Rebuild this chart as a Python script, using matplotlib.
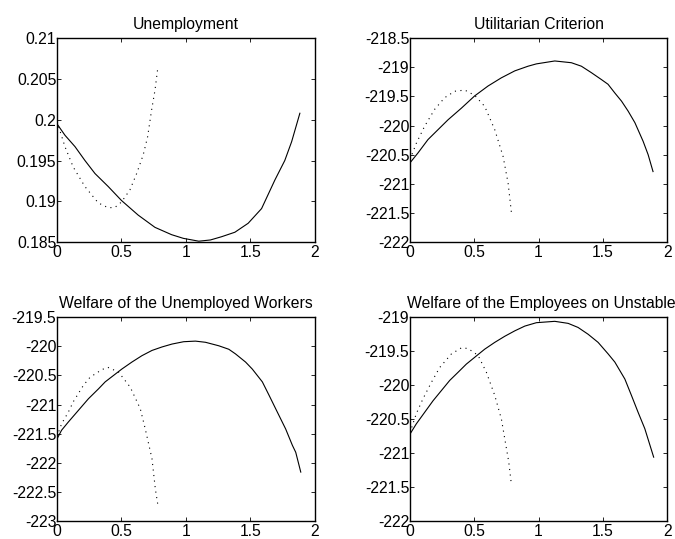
import matplotlib
matplotlib.use("Agg")
import matplotlib.pyplot as plt
from matplotlib.ticker import FormatStrFormatter

plt.rcParams["font.family"] = ["Liberation Sans", "DejaVu Sans"]
plt.rcParams["axes.unicode_minus"] = False

# --- Unemployment ---
unemp_solid_x = [0.0, 0.062, 0.14, 0.217, 0.295, 0.398, 0.5, 0.63, 0.76, 0.889, 0.98, 1.1, 1.19,
                 1.277, 1.38, 1.483, 1.587, 1.69, 1.767, 1.82, 1.884]
unemp_solid_y = [0.1995, 0.1981, 0.1967, 0.1950, 0.1934, 0.1918, 0.1901, 0.1883, 0.1868, 0.1859,
                 0.18545, 0.1851, 0.18525, 0.18565, 0.1862, 0.1873, 0.1891, 0.1926, 0.1950, 0.1973,
                 0.2008]
unemp_dot_x = [0.0, 0.062, 0.126, 0.217, 0.32, 0.398, 0.45, 0.5, 0.566, 0.618, 0.669, 0.703, 0.734,
               0.76, 0.78]
unemp_dot_y = [0.1998, 0.1967, 0.1942, 0.1918, 0.1898, 0.1892, 0.18925, 0.1899, 0.1914, 0.1934,
               0.1957, 0.1979, 0.2012, 0.2036, 0.2061]

# --- Utilitarian Criterion ---
util_solid_x = [0.0, 0.062, 0.14, 0.218, 0.296, 0.4, 0.503, 0.607, 0.71, 0.815, 0.918, 0.983, 1.126,
                1.255, 1.333, 1.41, 1.489, 1.54, 1.593, 1.645, 1.696, 1.749, 1.813, 1.852, 1.89]
util_solid_y = [-220.64, -220.47, -220.24, -220.07, -219.90, -219.70, -219.49, -219.32, -219.18,
                -219.06, -218.98, -218.94, -218.89, -218.92, -218.98, -219.09, -219.21, -219.29,
                -219.44, -219.58, -219.75, -219.95, -220.27, -220.50, -220.79]
util_dot_x = [0.0, 0.05, 0.114, 0.192, 0.27, 0.348, 0.426, 0.503, 0.581, 0.659, 0.724, 0.763, 0.789]
util_dot_y = [-220.58, -220.30, -220.01, -219.72, -219.52, -219.41, -219.39, -219.48, -219.67,
              -220.07, -220.53, -220.99, -221.50]

# --- Welfare of the Unemployed Workers ---
unw_solid_x = [0.0, 0.036, 0.088, 0.166, 0.244, 0.322, 0.374, 0.503, 0.581, 0.659, 0.737, 0.815,
               0.893, 0.983, 1.074, 1.152, 1.255, 1.333, 1.385, 1.463, 1.515, 1.593, 1.645, 1.696,
               1.774, 1.826, 1.852, 1.891]
unw_solid_y = [-221.59, -221.44, -221.30, -221.10, -220.90, -220.73, -220.61, -220.39, -220.27,
               -220.16, -220.07, -220.01, -219.96, -219.92, -219.91, -219.93, -219.99, -220.05,
               -220.13, -220.27, -220.39, -220.61, -220.84, -221.07, -221.42, -221.70, -221.82,
               -222.16]
unw_dot_x = [0.0, 0.036, 0.088, 0.127, 0.205, 0.257, 0.348, 0.394, 0.477, 0.568, 0.646, 0.685, 0.737,
             0.763, 0.783]
unw_dot_y = [-221.55, -221.33, -221.13, -220.95, -220.67, -220.53, -220.40, -220.36, -220.44, -220.70,
             -221.07, -221.42, -221.93, -222.45, -222.73]

# --- Welfare of the Employees on Unstable Jobs ---
une_solid_x = [0.0, 0.049, 0.114, 0.179, 0.244, 0.309, 0.374, 0.438, 0.503, 0.581, 0.659, 0.737,
               0.815, 0.893, 0.983, 1.126, 1.23, 1.307, 1.385, 1.463, 1.541, 1.593, 1.671, 1.722,
               1.774, 1.826, 1.895]
une_solid_y = [-220.72, -220.57, -220.40, -220.23, -220.08, -219.93, -219.81, -219.69, -219.59,
               -219.47, -219.37, -219.28, -219.20, -219.13, -219.08, -219.06, -219.09, -219.15,
               -219.25, -219.37, -219.54, -219.66, -219.91, -220.15, -220.40, -220.64, -221.06]
une_dot_x = [0.0, 0.049, 0.101, 0.166, 0.231, 0.322, 0.4, 0.451, 0.529, 0.594, 0.659, 0.711, 0.737,
             0.768, 0.789]
une_dot_y = [-220.70, -220.42, -220.20, -219.96, -219.74, -219.54, -219.45, -219.46, -219.56, -219.81,
             -220.15, -220.50, -220.79, -221.13, -221.47]

x_ticks = [0, 0.5, 1, 1.5, 2]

panels = [
    ("Unemployment", unemp_solid_x, unemp_solid_y, unemp_dot_x, unemp_dot_y,
     (0.185, 0.21), [0.185, 0.19, 0.195, 0.2, 0.205, 0.21]),
    ("Utilitarian Criterion", util_solid_x, util_solid_y, util_dot_x, util_dot_y,
     (-222, -218.5), [-222, -221.5, -221, -220.5, -220, -219.5, -219, -218.5]),
    ("Welfare of the Unemployed Workers", unw_solid_x, unw_solid_y, unw_dot_x, unw_dot_y,
     (-223, -219.5), [-223, -222.5, -222, -221.5, -221, -220.5, -220, -219.5]),
    ("Welfare of the Employees on Unstable Jobs", une_solid_x, une_solid_y, une_dot_x, une_dot_y,
     (-222, -219), [-222, -221.5, -221, -220.5, -220, -219.5, -219]),
]

positions = [
    [0.0844, 0.551, 0.382, 0.378],
    [0.6074, 0.551, 0.381, 0.378],
    [0.0844, 0.0334, 0.382, 0.378],
    [0.6074, 0.0334, 0.381, 0.378],
]

fig = plt.figure(figsize=(6.75, 5.39), dpi=100)

for i, (pos, (title, sx, sy, dx, dy, ylim, yticks)) in enumerate(zip(positions, panels)):
    ax = fig.add_axes(pos)
    ax.plot(sx, sy, color="black", linewidth=0.8)
    ax.plot(dx, dy, color="black", linewidth=0.8, linestyle=(0, (1, 4)))
    ax.set_xlim(0, 2)
    ax.set_ylim(*ylim)
    ax.set_xticks(x_ticks)
    ax.set_yticks(yticks)
    ax.xaxis.set_major_formatter(FormatStrFormatter("%g"))
    ax.yaxis.set_major_formatter(FormatStrFormatter("%g"))
    ax.tick_params(direction="in", length=3, width=0.6, top=True, right=True,
                   labelsize=11.3, colors="black")
    ax.tick_params(axis="y", pad=0.5)
    ax.tick_params(axis="x", pad=2)
    for spine in ax.spines.values():
        spine.set_linewidth(1.0)
    if i == 3:
        # long title runs off the right edge of the figure
        ax.set_title(title, fontsize=11.3, pad=7, loc="left", x=-0.012)
    else:
        ax.set_title(title, fontsize=11.3, pad=7)

fig.savefig("out.png", dpi=100)
